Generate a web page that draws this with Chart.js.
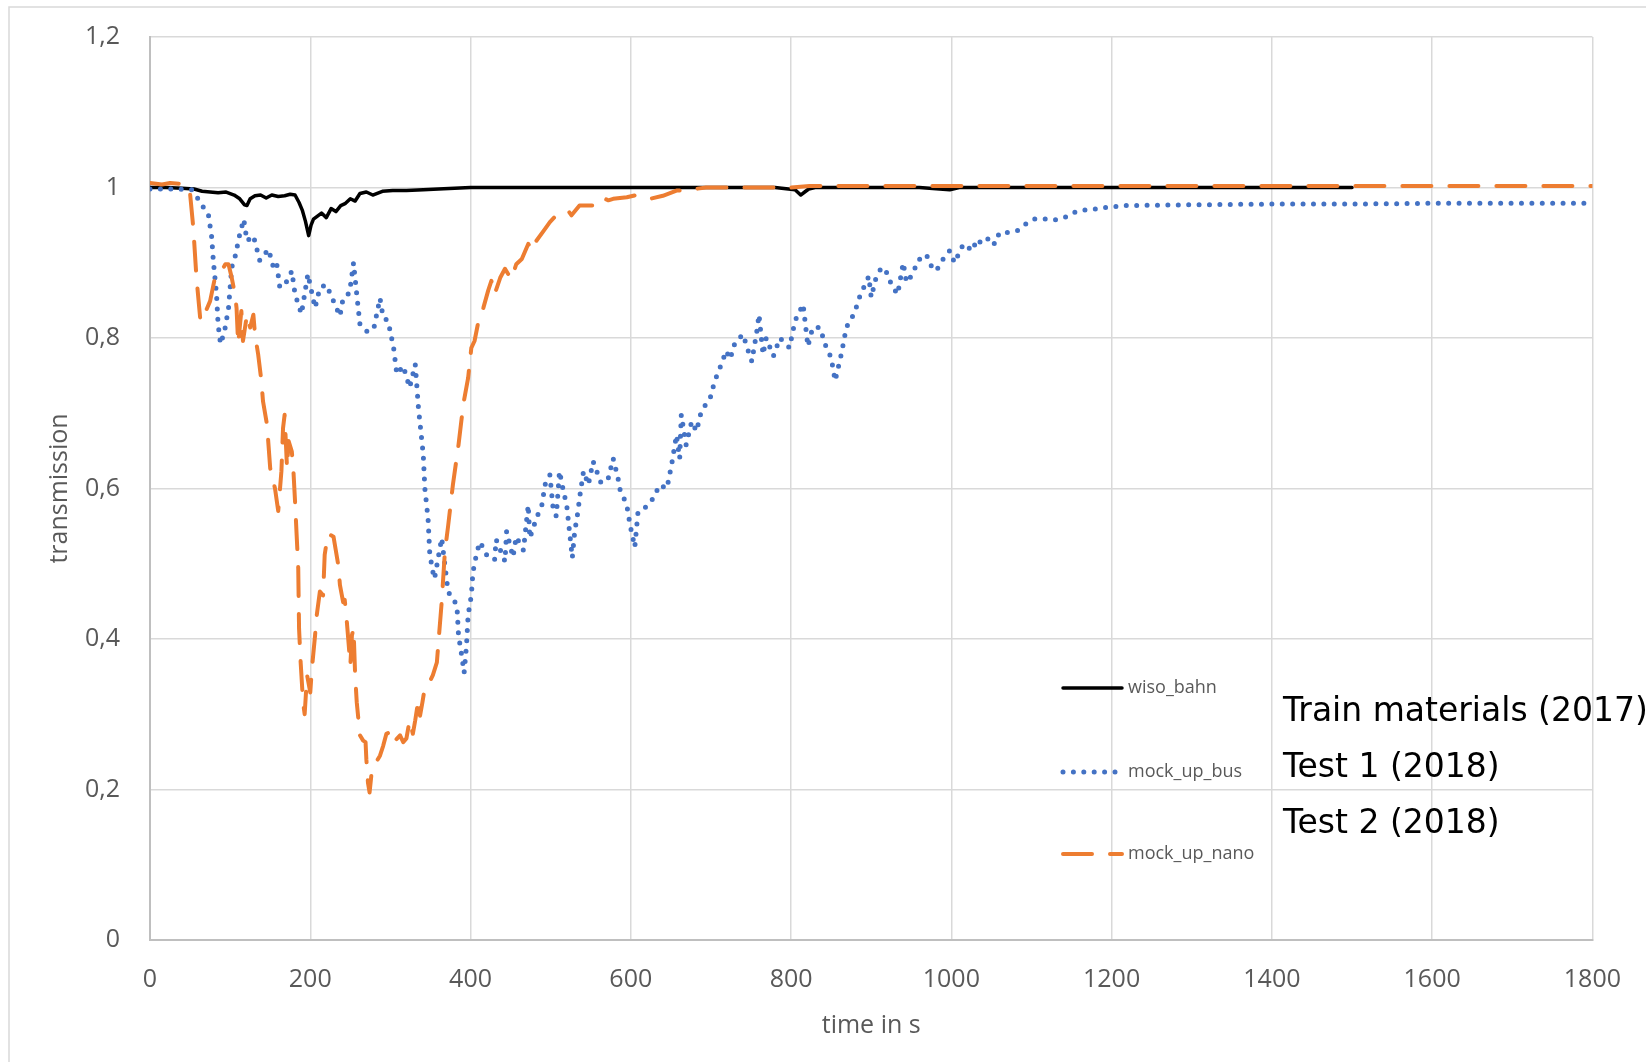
<!DOCTYPE html>
<html lang="en">
<head>
    <meta charset="UTF-8">
    <title>transmission</title>
    <script src="https://cdn.jsdelivr.net/npm/chart.js"></script>
    <style>
        body {
            margin: 0;
            background: #fff;
        }
        #chartBox {
            width: 1646px;
            height: 1062px;
        }
    </style>
</head>
<body>
    <div id="chartBox">
        <canvas id="myChart" width="1646" height="1062"></canvas>
    </div>

    <script>
        // wiso_bahn (train materials 2017)
        const wisoTime = [
            0, 20, 40, 55, 65, 75, 85, 95, 105, 112,
            118, 121, 125, 131, 138, 145, 152, 160, 168, 175,
            181, 186, 190, 194, 198, 201, 204, 209, 214, 220,
            226, 232, 238, 244, 250, 256, 262, 270, 278, 290,
            303, 320, 341, 360, 380, 400, 450, 500, 560, 600,
            700, 780, 805, 812, 817, 822, 830, 900, 960, 998,
            1010, 1100, 1200, 1300, 1400, 1500
        ];
        const wisoValues = [
            1.000, 1.000, 0.999, 0.998, 0.995, 0.994, 0.993, 0.994, 0.990, 0.985,
            0.977, 0.976, 0.985, 0.989, 0.990, 0.986, 0.990, 0.988, 0.989, 0.991,
            0.990, 0.980, 0.970, 0.955, 0.936, 0.950, 0.958, 0.962, 0.966, 0.960,
            0.972, 0.968, 0.976, 0.979, 0.985, 0.982, 0.992, 0.994, 0.990, 0.995,
            0.996, 0.996, 0.997, 0.998, 0.999, 1.000, 1.000, 1.000, 1.000, 1.000,
            1.000, 1.000, 0.997, 0.990, 0.994, 0.998, 1.000, 1.000, 1.000, 0.997,
            1.000, 1.000, 1.000, 1.000, 1.000, 1.000
        ];

        // mock_up_bus (test 1 2018)
        const busTime = [
            0, 27, 52, 60, 73, 77, 79, 83, 85, 88,
            93, 98, 102, 106, 112, 117, 121, 129, 137, 148,
            154, 158, 162, 170, 177, 181, 189, 197, 206, 212,
            220, 229, 237, 241, 249, 254, 258, 262, 270, 279,
            287, 291, 297, 304, 308, 316, 324, 331, 335, 341,
            343, 347, 349, 352, 355, 364, 368, 372, 383, 385,
            389, 392, 395, 397, 401, 403, 408, 412, 420, 430,
            432, 443, 445, 453, 457, 466, 472, 474, 482, 489,
            493, 499, 503, 507, 511, 516, 520, 527, 530, 534,
            536, 541, 547, 553, 563, 572, 578, 584, 586, 595,
            599, 605, 609, 620, 628, 636, 645, 651, 653, 657,
            661, 663, 669, 676, 682, 688, 699, 703, 707, 713,
            719, 724, 730, 740, 748, 751, 757, 760, 765, 769,
            778, 786, 798, 805, 815, 821, 827, 836, 844, 850,
            855, 863, 869, 879, 886, 897, 900, 906, 913, 921,
            925, 933, 940, 944, 952, 958, 969, 973, 981, 992,
            998, 1004, 1015, 1021, 1027, 1031, 1039, 1048, 1054, 1060,
            1069, 1083, 1096, 1104, 1121, 1129, 1143, 1154, 1164, 1185,
            1195, 1218, 1300, 1400, 1500, 1600, 1700, 1800
        ];
        const busValues = [
            0.998, 0.998, 0.997, 0.985, 0.963, 0.934, 0.903, 0.858, 0.818, 0.792,
            0.809, 0.840, 0.894, 0.907, 0.938, 0.958, 0.929, 0.936, 0.903, 0.918,
            0.894, 0.900, 0.867, 0.874, 0.889, 0.858, 0.832, 0.885, 0.840, 0.867,
            0.871, 0.849, 0.829, 0.853, 0.860, 0.900, 0.858, 0.818, 0.809, 0.811,
            0.853, 0.827, 0.823, 0.787, 0.752, 0.763, 0.734, 0.765, 0.707, 0.645,
            0.600, 0.560, 0.516, 0.494, 0.480, 0.534, 0.498, 0.463, 0.445, 0.405,
            0.378, 0.355, 0.392, 0.432, 0.458, 0.489, 0.516, 0.529, 0.512, 0.505,
            0.532, 0.503, 0.543, 0.509, 0.536, 0.518, 0.578, 0.534, 0.560, 0.578,
            0.605, 0.618, 0.574, 0.563, 0.623, 0.596, 0.578, 0.508, 0.543, 0.569,
            0.587, 0.623, 0.605, 0.636, 0.607, 0.614, 0.640, 0.614, 0.600, 0.578,
            0.552, 0.522, 0.569, 0.576, 0.587, 0.605, 0.600, 0.632, 0.645, 0.671,
            0.640, 0.698, 0.658, 0.689, 0.676, 0.703, 0.720, 0.736, 0.749, 0.765,
            0.783, 0.772, 0.794, 0.805, 0.778, 0.769, 0.807, 0.831, 0.778, 0.800,
            0.776, 0.800, 0.787, 0.823, 0.845, 0.789, 0.814, 0.814, 0.787, 0.774,
            0.743, 0.780, 0.814, 0.833, 0.856, 0.882, 0.854, 0.880, 0.894, 0.885,
            0.871, 0.858, 0.900, 0.874, 0.885, 0.903, 0.911, 0.898, 0.889, 0.909,
            0.916, 0.900, 0.925, 0.920, 0.916, 0.931, 0.925, 0.934, 0.925, 0.940,
            0.940, 0.943, 0.954, 0.958, 0.958, 0.957, 0.961, 0.967, 0.970, 0.972,
            0.974, 0.976, 0.977, 0.978, 0.978, 0.979, 0.979, 0.979
        ];

        // mock_up_nano (test 2 2018)
        const nanoTime = [
            0, 15, 25, 37, 45, 50, 54, 58, 63, 69,
            75, 81, 87, 94, 98, 102, 106, 108, 110, 114,
            116, 121, 125, 129, 131, 135, 139, 141, 146, 150,
            156, 160, 164, 166, 168, 171, 173, 177, 179, 181,
            183, 185, 186, 188, 191, 193, 196, 200, 202, 206,
            208, 212, 216, 218, 222, 229, 235, 237, 241, 243,
            245, 248, 250, 252, 254, 256, 258, 262, 266, 269,
            270, 272, 274, 277, 281, 287, 291, 295, 299, 304,
            306, 312, 316, 320, 324, 328, 331, 335, 337, 340,
            343, 349, 353, 358, 360, 364, 368, 372, 378, 385,
            391, 397, 401, 405, 410, 416, 422, 426, 430, 437,
            443, 451, 457, 464, 472, 478, 482, 493, 499, 507,
            514, 522, 526, 536, 553, 563, 572, 578, 595, 607,
            624, 640, 657, 665, 694, 720, 800, 823, 900, 1000,
            1200, 1400, 1600, 1800
        ];
        const nanoValues = [
            1.006, 1.004, 1.006, 1.005, 1.003, 0.992, 0.947, 0.880, 0.822, 0.834,
            0.849, 0.880, 0.885, 0.898, 0.898, 0.880, 0.858, 0.840, 0.792, 0.836,
            0.796, 0.831, 0.814, 0.831, 0.805, 0.778, 0.743, 0.716, 0.685, 0.627,
            0.600, 0.570, 0.623, 0.680, 0.698, 0.627, 0.663, 0.649, 0.623, 0.583,
            0.538, 0.494, 0.414, 0.369, 0.316, 0.300, 0.352, 0.329, 0.360, 0.405,
            0.431, 0.463, 0.458, 0.512, 0.540, 0.536, 0.498, 0.472, 0.449, 0.452,
            0.431, 0.392, 0.365, 0.405, 0.414, 0.352, 0.316, 0.272, 0.265, 0.263,
            0.240, 0.209, 0.196, 0.227, 0.234, 0.245, 0.258, 0.274, 0.276, 0.278,
            0.265, 0.272, 0.263, 0.268, 0.292, 0.274, 0.292, 0.320, 0.298, 0.316,
            0.336, 0.343, 0.352, 0.369, 0.396, 0.449, 0.516, 0.550, 0.605, 0.658,
            0.712, 0.747, 0.787, 0.796, 0.823, 0.840, 0.863, 0.876, 0.858, 0.880,
            0.892, 0.878, 0.898, 0.905, 0.925, 0.916, 0.929, 0.945, 0.954, 0.963,
            0.965, 0.969, 0.963, 0.976, 0.976, 0.987, 0.983, 0.985, 0.987, 0.990,
            0.985, 0.989, 0.996, 0.996, 1.000, 1.000, 1.000, 1.002, 1.002, 1.002,
            1.002, 1.002, 1.002, 1.002
        ];

        const seriesNames = ['wiso_bahn', 'mock_up_bus', 'mock_up_nano'];
        const seriesNotes = ['Train materials (2017)', 'Test 1 (2018)', 'Test 2 (2018)'];
        const xTicks = [0, 200, 400, 600, 800, 1000, 1200, 1400, 1600, 1800];
        const yTicks = [0, 0.2, 0.4, 0.6, 0.8, 1, 1.2];

        function toPoints(times, values) {
            return times.map((t, i) => ({ x: t, y: values[i] }));
        }

        const axisGray = '#595959';

        // frame, hand-placed legend and the big notes
        const overlay = {
            id: 'overlay',
            beforeDraw(chart) {
                const ctx = chart.ctx;
                ctx.save();
                ctx.fillStyle = '#fff';
                ctx.fillRect(0, 0, chart.width, chart.height);
                ctx.strokeStyle = '#d9d9d9';
                ctx.lineWidth = 1.5;
                ctx.beginPath();
                ctx.moveTo(9, chart.height);
                ctx.lineTo(9, 7);
                ctx.lineTo(chart.width, 7);
                ctx.stroke();
                ctx.restore();
            },
            afterDraw(chart) {
                const ctx = chart.ctx;
                const rows = [688, 772, 854];
                chart.data.datasets.forEach((ds, i) => {
                    const y = rows[i];
                    ctx.save();
                    ctx.strokeStyle = ds.borderColor;
                    ctx.lineWidth = ds.borderWidth;
                    ctx.lineCap = ds.borderCapStyle || 'butt';
                    ctx.setLineDash(ds.borderDash || []);
                    ctx.beginPath();
                    ctx.moveTo(1063, y);
                    ctx.lineTo(1122, y);
                    ctx.stroke();
                    ctx.setLineDash([]);
                    ctx.fillStyle = axisGray;
                    ctx.font = '18px "Open Sans"';
                    ctx.textBaseline = 'middle';
                    ctx.fillText(ds.label, 1128, y);
                    ctx.restore();
                });
                ctx.save();
                ctx.fillStyle = '#000';
                ctx.font = '33px "DejaVu Sans"';
                ctx.textBaseline = 'alphabetic';
                seriesNotes.forEach((txt, i) => ctx.fillText(txt, 1283, 721 + i * 56));
                ctx.restore();
            }
        };

        Chart.defaults.font.family = '"Open Sans", sans-serif';
        Chart.defaults.color = axisGray;

        const ctx = document.getElementById('myChart').getContext('2d');
        const myChart = new Chart(ctx, {
            type: 'line',
            data: {
                datasets: [{
                    label: seriesNames[0],
                    data: toPoints(wisoTime, wisoValues),
                    borderColor: '#000000',
                    borderWidth: 3.5,
                    borderCapStyle: 'round',
                    borderJoinStyle: 'round',
                    order: 3
                }, {
                    label: seriesNames[1],
                    data: toPoints(busTime, busValues),
                    borderColor: '#4472C4',
                    borderWidth: 5,
                    borderDash: [0, 10.4],
                    borderCapStyle: 'round',
                    borderJoinStyle: 'round',
                    order: 2
                }, {
                    label: seriesNames[2],
                    data: toPoints(nanoTime, nanoValues),
                    borderColor: '#ED7D31',
                    borderWidth: 4,
                    borderDash: [29, 18],
                    borderCapStyle: 'round',
                    borderJoinStyle: 'round',
                    order: 1
                }]
            },
            options: {
                responsive: false,
                animation: false,
                devicePixelRatio: 1,
                layout: {
                    padding: { left: 0, top: 37, right: 48, bottom: 0 }
                },
                elements: {
                    point: { radius: 0 },
                    line: { tension: 0, fill: false }
                },
                plugins: {
                    legend: { display: false },
                    tooltip: { enabled: false }
                },
                scales: {
                    x: {
                        type: 'linear',
                        min: 0,
                        max: 1800,
                        afterFit(scale) { scale.height = 122; },
                        afterBuildTicks(scale) { scale.ticks = xTicks.map(v => ({ value: v })); },
                        ticks: {
                            padding: 25,
                            maxRotation: 0,
                            autoSkip: false,
                            font: { size: 25 },
                            color: axisGray,
                            callback: v => String(v)
                        },
                        grid: { color: '#d9d9d9', lineWidth: 1.5, drawTicks: false },
                        border: { color: '#bfbfbf', width: 2 },
                        title: {
                            display: true,
                            text: 'time in s',
                            font: { size: 25 },
                            color: axisGray,
                            padding: { top: 0, bottom: 21 }
                        }
                    },
                    y: {
                        min: 0,
                        max: 1.2,
                        afterFit(scale) {
                            scale.width = 150;
                            scale.paddingTop = 0;
                            scale.paddingBottom = 0;
                        },
                        afterBuildTicks(scale) { scale.ticks = yTicks.map(v => ({ value: v })); },
                        ticks: {
                            padding: 30,
                            font: { size: 25 },
                            color: axisGray,
                            callback: v => String(Number(v.toFixed(1))).replace('.', ',')
                        },
                        grid: { color: '#d9d9d9', lineWidth: 1.5, drawTicks: false },
                        border: { color: '#bfbfbf', width: 2 },
                        title: {
                            display: true,
                            text: 'transmission',
                            font: { size: 25 },
                            color: axisGray,
                            padding: { top: 45, bottom: 0 }
                        }
                    }
                }
            },
            plugins: [overlay]
        });
    </script>
</body>
</html>
